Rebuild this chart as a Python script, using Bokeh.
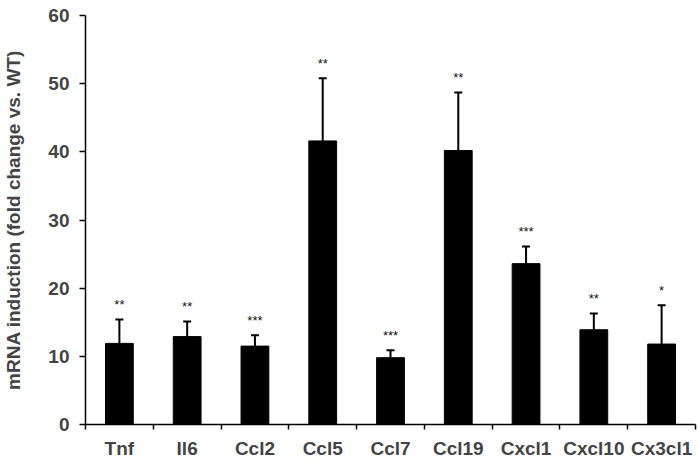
from bokeh.plotting import figure
from bokeh.models import (ColumnDataSource, Range1d, LinearAxis,
                          FixedTicker, Whisker, TeeHead)
from bokeh.core.properties import value
from bokeh.embed import file_html
from bokeh.resources import INLINE

genes = ["Tnf", "Il6", "Ccl2", "Ccl5", "Ccl7", "Ccl19", "Cxcl1", "Cxcl10", "Cx3cl1"]
fold_change = [11.9, 12.9, 11.5, 41.6, 9.8, 40.2, 23.6, 13.9, 11.8]
sem = [3.5, 2.2, 1.6, 9.2, 1.1, 8.5, 2.5, 2.4, 5.7]
significance = ["**", "**", "***", "**", "***", "**", "***", "**", "*"]
y_ticks = [0, 10, 20, 30, 40, 50, 60]

n = len(genes)
xpos = [i + 0.5 for i in range(n)]
bounds = list(range(n + 1))
upper = [m + e for m, e in zip(fold_change, sem)]
source = ColumnDataSource(dict(x=xpos, gene=genes, mean=fold_change, upper=upper, sig=significance))

FONT = "Liberation Sans"

p = figure(x_range=Range1d(0, n), y_range=Range1d(0, 60),
           frame_width=610, frame_height=409,
           min_border_left=82, min_border_top=15, min_border_right=4, min_border_bottom=20,
           output_backend="svg", toolbar_location=None, x_axis_type=None,
           outline_line_color=None, background_fill_color="white")
p.grid.visible = False

p.vbar(x="x", top="mean", width=0.41, bottom=0, source=source,
       fill_color="black", line_color="black")

w = Whisker(source=source, base="x", lower="mean", upper="upper",
            line_color="black", line_width=2,
            upper_head=TeeHead(size=8, line_color="black", line_width=2),
            lower_head=None)
p.add_layout(w)

p.text(x="x", y="upper", text="sig", source=source, text_align="center",
       text_baseline="middle", y_offset=-15, text_font=value(FONT),
       text_font_size="13px", text_color="#111111")

# y axis
ya = p.yaxis[0]
ya.ticker = FixedTicker(ticks=y_ticks)
ya.minor_tick_line_color = None
ya.major_tick_in = 0
ya.major_tick_out = 6
ya.axis_line_color = "black"
ya.axis_line_width = 1.5
ya.major_tick_line_width = 1.5
ya.major_label_text_font = FONT
ya.major_label_text_font_style = "bold"
ya.major_label_text_font_size = "19px"
ya.major_label_standoff = 10
ya.axis_label = "mRNA induction (fold change vs. WT)"
ya.axis_label_text_font = FONT
ya.axis_label_text_font_style = "bold"
ya.axis_label_text_font_size = "19px"
ya.axis_label_standoff = 21

# x axis: labels at category centres, tick marks at category boundaries
xa = LinearAxis(ticker=FixedTicker(ticks=xpos, minor_ticks=bounds),
                major_label_overrides={x: g for x, g in zip(xpos, genes)},
                axis_line_color="black", axis_line_width=1.5,
                major_tick_line_color=None, major_tick_in=0, major_tick_out=4,
                minor_tick_line_color="black", minor_tick_line_width=1.5,
                minor_tick_in=0, minor_tick_out=5,
                major_label_text_font=FONT, major_label_text_font_style="bold",
                major_label_text_font_size="19px", major_label_standoff=8)
p.add_layout(xa, "below")

open("out.html", "w").write(file_html(p, INLINE))
